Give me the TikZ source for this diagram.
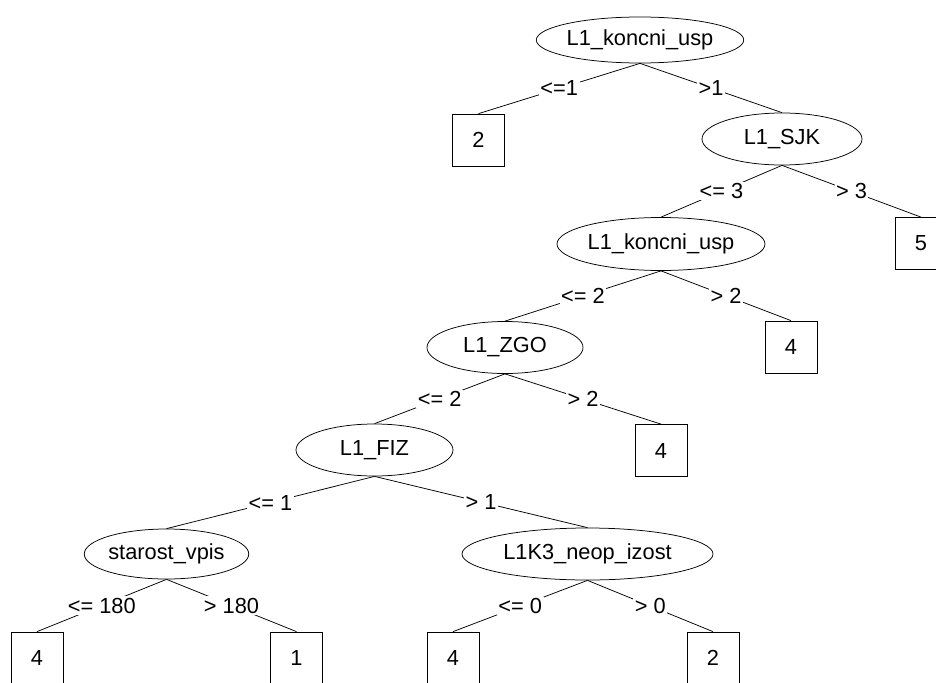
\documentclass[tikz,border=0pt]{standalone}
\usepackage{fontspec}
\setmainfont{Liberation Sans}
\usetikzlibrary{shapes.geometric}
\begin{document}
\begin{tikzpicture}[x=1pt,y=-1pt,
  every node/.style={font=\fontsize{21.8}{25}\selectfont},
  ell/.style={draw, ellipse, inner sep=0pt, line width=0.75pt},
  leaf/.style={draw, rectangle, minimum width=52pt, minimum height=52pt, inner sep=0pt, line width=0.75pt},
  edge/.style={line width=0.75pt},
  lbl/.style={fill=white, inner sep=1.5pt, midway}]
\useasboundingbox (0,0) rectangle (936,682);
\clip (0,0) rectangle (936,682);

% inner nodes
\node[ell, minimum width=197pt, minimum height=46pt] (n1) at (640,40) {L1\_koncni\_usp};
\node[ell, minimum width=160pt, minimum height=52pt] (n2) at (782,139) {L1\_SJK};
\node[ell, minimum width=208pt, minimum height=53pt] (n3) at (661,244) {L1\_koncni\_usp};
\node[ell, minimum width=156pt, minimum height=52pt] (n4) at (505,347.5) {L1\_ZGO};
\node[ell, minimum width=157pt, minimum height=52pt] (n5) at (374.5,450) {L1\_FIZ};
\node[ell, minimum width=157pt, minimum height=50pt] (n6) at (166.5,554) {starost\_vpis};
\node[ell, minimum width=251pt, minimum height=52pt] (n7) at (587.5,554) {L1K3\_neop\_izost};

% leaves
\node[leaf] (l1) at (478.5,140) {2};
\node[leaf] (l2) at (921,243.5) {5};
\node[leaf] (l3) at (791,347) {4};
\node[leaf] (l4) at (661,450.5) {4};
\node[leaf] (l5) at (37,658) {4};
\node[leaf] (l6) at (296.5,658) {1};
\node[leaf] (l7) at (453,658) {4};
\node[leaf] (l8) at (713,658) {2};

% branches with split conditions
\draw[edge] (n1.south) -- (l1.north) node[lbl] {<=1};
\draw[edge] (n1.south) -- (n2.north) node[lbl] {>1};
\draw[edge] (n2.south) -- (n3.north) node[lbl] {<= 3};
\draw[edge] (n2.south) -- (l2.north) node[lbl] {> 3};
\draw[edge] (n3.south) -- (n4.north) node[lbl] {<= 2};
\draw[edge] (n3.south) -- (l3.north) node[lbl] {> 2};
\draw[edge] (n4.south) -- (n5.north) node[lbl] {<= 2};
\draw[edge] (n4.south) -- (l4.north) node[lbl] {> 2};
\draw[edge] (n5.south) -- (n6.north) node[lbl] {<= 1};
\draw[edge] (n5.south) -- (n7.north) node[lbl] {> 1};
\draw[edge] (n6.south) -- (l5.north) node[lbl] {<= 180};
\draw[edge] (n6.south) -- (l6.north) node[lbl] {> 180};
\draw[edge] (n7.south) -- (l7.north) node[lbl] {<= 0};
\draw[edge] (n7.south) -- (l8.north) node[lbl] {> 0};
\end{tikzpicture}
\end{document}
